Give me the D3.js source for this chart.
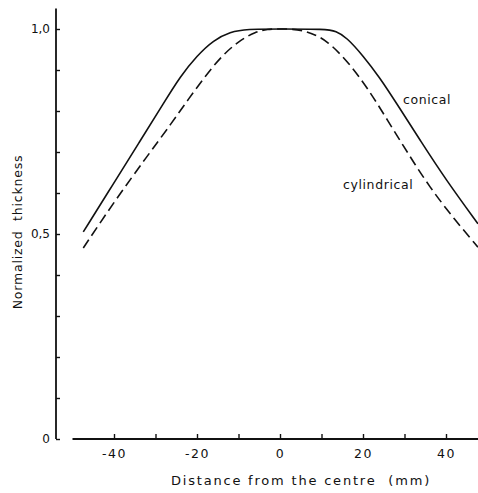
<!DOCTYPE html>
<html>
<head>
<meta charset="utf-8">
<script src="https://cdn.jsdelivr.net/npm/d3@7"></script>
<style>
  body { margin: 0; background: #fff; }
  text { font-family: "DejaVu Sans", sans-serif; fill: #111; }
</style>
</head>
<body>
<div id="chart"></div>
<script>
// data (distance in mm, normalized thickness)
var conicalX = [-47.4, -40, -34, -28, -24, -20, -16, -12, -8, 0, 11, 13.5, 16, 20, 24, 28, 34, 40, 47.7];
var conicalY = [0.505, 0.625, 0.722, 0.82, 0.885, 0.935, 0.973, 0.993, 1.0, 1.0, 1.0, 0.995, 0.98, 0.935, 0.882, 0.82, 0.725, 0.632, 0.525];

var cylX = [-47.4, -40, -32, -26, -22, -18, -14, -10, -6, -3, 0, 3, 6, 8.5, 11.3, 16, 21, 26, 31, 36, 42, 47.7];
var cylY = [0.466, 0.578, 0.69, 0.772, 0.83, 0.885, 0.935, 0.97, 0.993, 1.0, 1.0, 1.0, 0.995, 0.986, 0.971, 0.925, 0.858, 0.776, 0.694, 0.615, 0.536, 0.468];

var xTicks = [-40, -30, -20, -10, 0, 10, 20, 30, 40];
var xLabels = [-40, -20, 0, 20, 40];
var yTicks = [0, 0.1, 0.2, 0.3, 0.4, 0.5, 0.6, 0.7, 0.8, 0.9, 1.0];
var yLabels = {0: "0", 0.5: "0,5", 1: "1,0"};

var width = 478, height = 493;

var svg = d3.select("#chart")
  .append("svg")
    .attr("width", width)
    .attr("height", height);

// scales
var x = d3.scaleLinear().domain([-50, 50]).range([72.5, 487.5]);
var y = d3.scaleLinear().domain([0, 1]).range([439, 29]);

// y axis (ticks pointing inward)
var yAxis = svg.append("g")
  .attr("transform", "translate(56,0)")
  .call(d3.axisLeft(y)
    .tickValues(yTicks)
    .tickSize(-4)
    .tickPadding(6)
    .tickFormat(function(d) { return yLabels[Math.round(d * 10) / 10] || ""; }));
yAxis.select(".domain").remove();
yAxis.selectAll(".tick line").attr("stroke", "#111").attr("stroke-width", 1.4);
yAxis.selectAll(".tick text").style("font-size", "12px").attr("font-family", null);
yAxis.append("line")
  .attr("x1", 0).attr("x2", 0)
  .attr("y1", y(1.05)).attr("y2", y(0))
  .attr("stroke", "#111").attr("stroke-width", 1.8);

// x axis (separate baseline, ticks pointing up)
var xAxis = svg.append("g")
  .attr("transform", "translate(0," + y(0) + ")")
  .call(d3.axisBottom(x)
    .tickValues(xTicks)
    .tickSize(-5)
    .tickPadding(10)
    .tickFormat(function(d) { return xLabels.indexOf(d) >= 0 ? String(d) : ""; }));
xAxis.select(".domain").remove();
xAxis.selectAll(".tick line").attr("stroke", "#111").attr("stroke-width", 1.4);
xAxis.selectAll(".tick text")
  .style("font-size", "12.5px")
  .style("letter-spacing", "1.5px")
  .attr("font-family", null);
xAxis.append("line")
  .attr("x1", x(-50)).attr("x2", width)
  .attr("y1", 0).attr("y2", 0)
  .attr("stroke", "#111").attr("stroke-width", 1.8);

// curves
var line = d3.line()
  .x(function(d) { return x(d[0]); })
  .y(function(d) { return y(d[1]); })
  .curve(d3.curveBasis);

svg.append("path")
  .datum(d3.zip(conicalX, conicalY))
  .attr("fill", "none")
  .attr("stroke", "#111")
  .attr("stroke-width", 1.6)
  .attr("d", line);

svg.append("path")
  .datum(d3.zip(cylX, cylY))
  .attr("fill", "none")
  .attr("stroke", "#111")
  .attr("stroke-width", 1.6)
  .attr("stroke-dasharray", "10,5")
  .attr("d", line);

// curve labels
svg.append("text").attr("x", 403).attr("y", 104)
  .style("font-size", "12.5px").style("letter-spacing", "0.6px")
  .text("conical");
svg.append("text").attr("x", 343).attr("y", 189)
  .style("font-size", "12.5px").style("letter-spacing", "0.6px")
  .text("cylindrical");

// axis titles
svg.append("text")
  .attr("x", 301).attr("y", 485)
  .style("text-anchor", "middle")
  .style("font-size", "13px")
  .style("letter-spacing", "1.8px")
  .style("white-space", "pre")
  .text("Distance from the centre  (mm)");

svg.append("text")
  .attr("transform", "translate(22,232) rotate(-90)")
  .style("text-anchor", "middle")
  .style("font-size", "12.5px")
  .style("letter-spacing", "0.8px")
  .style("white-space", "pre")
  .text("Normalized  thickness");
</script>
</body>
</html>
